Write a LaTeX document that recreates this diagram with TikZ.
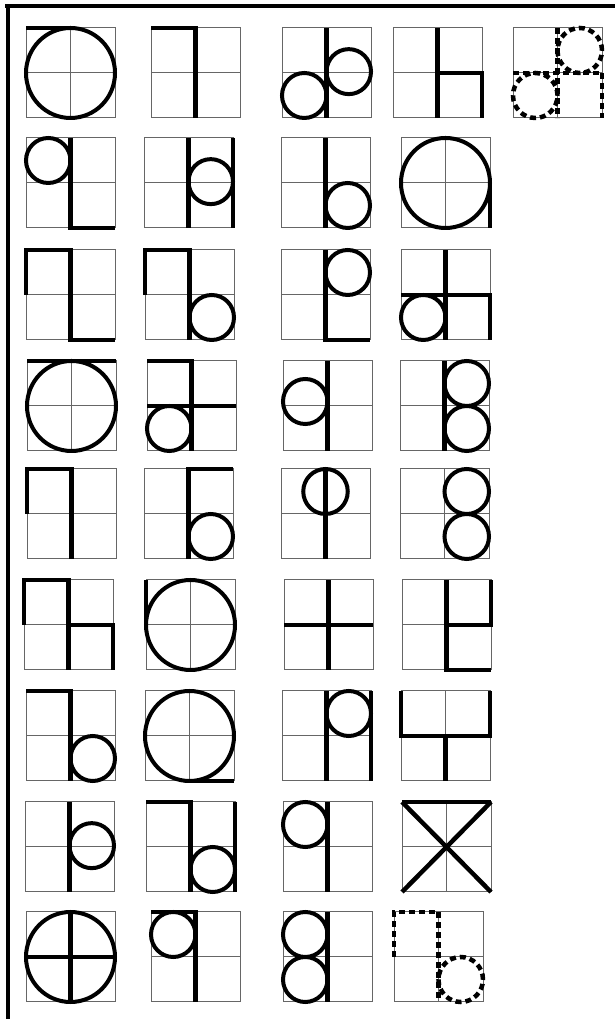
\documentclass[tikz,border=0pt]{standalone}
\begin{document}
\begin{tikzpicture}[
  gridln/.style={draw=black!60, line width=1pt},
  stroke/.style={line width=4.5pt, line join=miter, line cap=butt},
  ring/.style={line width=4pt},
  dstroke/.style={line width=4.5pt, dash pattern=on 6pt off 4pt, line join=miter},
  frameln/.style={line width=4pt}
]
\useasboundingbox[fill=white] (0,0) rectangle (615pt,1019pt);
\newcommand\Cell[3]{%
  \begin{scope}[shift={(#1pt,{1019pt-#2pt})},x=44.5pt,y=45pt]
    \draw[gridln] (0,0) rectangle (2,2) (1,0)--(1,2) (0,1)--(2,1);
    #3
  \end{scope}}
% frame
\draw[frameln] (5pt,{1019pt-6.5pt}) -- (615pt,{1019pt-6.5pt});
\draw[frameln] (8pt,{1019pt-4.5pt}) -- (8pt,0pt);
% Row 1
\Cell{26}{118}{\draw[ring] (1,1) circle (1); \draw[stroke] (0,2)--(1,2);}
\Cell{151}{118}{\draw[stroke] (0,2)--(1,2)--(1,0);}
\Cell{282}{118}{\draw[stroke] (1,2)--(1,0); \draw[ring] (0.5,0.5) circle (0.5) (1.5,1.03) circle (0.5);}
\Cell{393}{118}{\draw[stroke] (1,2)--(1,0); \draw[stroke] (1,1)--(2,1)--(2,0);}
\Cell{513}{118}{\draw[dstroke] (1,2)--(1,0) (0,1)--(2,1) (2,1)--(2,0); \draw[dstroke] (1.5,1.5) circle (0.5) (0.5,0.5) circle (0.5);}
% Row 2
\Cell{26}{228}{\draw[ring] (0.5,1.5) circle (0.5); \draw[stroke] (1,2)--(1,0)--(2,0);}
\Cell{144}{228}{\draw[stroke] (1,2)--(1,0) (2,2)--(2,0); \draw[ring] (1.5,1.03) circle (0.5);}
\Cell{281}{228}{\draw[stroke] (1,2)--(1,0); \draw[ring] (1.5,0.5) circle (0.5);}
\Cell{401}{228}{\draw[ring] (1,1) circle (1); \draw[stroke] (2,1)--(2,0);}
% Row 3
\Cell{26}{340}{\draw[stroke] (0,1)--(0,2)--(1,2)--(1,0)--(2,0);}
\Cell{145}{340}{\draw[stroke] (0,1)--(0,2)--(1,2)--(1,0); \draw[ring] (1.5,0.5) circle (0.5);}
\Cell{281}{340}{\draw[stroke] (1,2)--(1,0)--(2,0); \draw[ring] (1.5,1.5) circle (0.5);}
\Cell{401}{340}{\draw[stroke] (1,2)--(1,0); \draw[stroke] (0,1)--(2,1)--(2,0); \draw[ring] (0.5,0.5) circle (0.5);}
% Row 4
\Cell{27}{451}{\draw[ring] (1,1) circle (1); \draw[stroke] (0,2)--(2,2);}
\Cell{147}{451}{\draw[stroke] (0,2)--(1,2)--(1,0); \draw[stroke] (0,1)--(2,1); \draw[ring] (0.5,0.5) circle (0.5);}
\Cell{283}{451}{\draw[stroke] (1,2)--(1,0); \draw[ring] (0.5,1.1) circle (0.5);}
\Cell{400}{451}{\draw[stroke] (1,2)--(1,0); \draw[ring] (1.5,1.5) circle (0.5) (1.5,0.5) circle (0.5);}
% Row 5
\Cell{27}{559}{\draw[stroke] (0,1)--(0,2)--(1,2)--(1,0);}
\Cell{144}{559}{\draw[stroke] (2,2)--(1,2)--(1,0); \draw[ring] (1.5,0.5) circle (0.5);}
\Cell{281}{559}{\draw[stroke] (1,2)--(1,0); \draw[ring] (1,1.5) circle (0.5);}
\Cell{400}{559}{\draw[ring] (1.5,1.5) circle (0.5) (1.5,0.5) circle (0.5);}
% Row 6
\Cell{24}{670}{\draw[stroke] (0,1)--(0,2)--(1,2)--(1,0); \draw[stroke] (1,1)--(2,1)--(2,0);}
\Cell{146}{670}{\draw[ring] (1,1) circle (1); \draw[stroke] (0,2)--(0,1);}
\Cell{284}{670}{\draw[stroke] (1,2)--(1,0) (0,1)--(2,1);}
\Cell{402}{670}{\draw[stroke] (2,2)--(2,1)--(1,1); \draw[stroke] (1,2)--(1,0)--(2,0);}
% Row 7
\Cell{26}{781}{\draw[stroke] (0,2)--(1,2)--(1,0); \draw[ring] (1.5,0.5) circle (0.5);}
\Cell{145}{781}{\draw[ring] (1,1) circle (1); \draw[stroke] (1,0)--(2,0);}
\Cell{282}{781}{\draw[stroke] (1,2)--(1,0) (2,2)--(2,0); \draw[ring] (1.5,1.5) circle (0.5);}
\Cell{401}{781}{\draw[stroke] (0,2)--(0,1)--(2,1)--(2,2); \draw[stroke] (1,1)--(1,0);}
% Row 8
\Cell{25}{892}{\draw[stroke] (1,2)--(1,0); \draw[ring] (1.5,1.03) circle (0.5);}
\Cell{146}{892}{\draw[stroke] (0,2)--(1,2)--(1,0) (2,2)--(2,0); \draw[ring] (1.5,0.5) circle (0.5);}
\Cell{283}{892}{\draw[stroke] (1,2)--(1,0); \draw[ring] (0.5,1.5) circle (0.5);}
\Cell{402}{892}{\draw[stroke] (0,2)--(2,2); \draw[stroke] (0,0)--(2,2) (0,2)--(2,0);}
% Row 9
\Cell{26}{1002}{\draw[ring] (1,1) circle (1); \draw[stroke] (0,1)--(2,1) (1,2)--(1,0);}
\Cell{151}{1002}{\draw[stroke] (0,2)--(1,2)--(1,0); \draw[ring] (0.5,1.5) circle (0.5);}
\Cell{283}{1002}{\draw[stroke] (1,2)--(1,0); \draw[ring] (0.5,1.5) circle (0.5) (0.5,0.5) circle (0.5);}
\Cell{394}{1002}{\draw[dstroke] (0,1)--(0,2)--(1,2)--(1,0); \draw[dstroke] (1.5,0.5) circle (0.5);}
\end{tikzpicture}
\end{document}
